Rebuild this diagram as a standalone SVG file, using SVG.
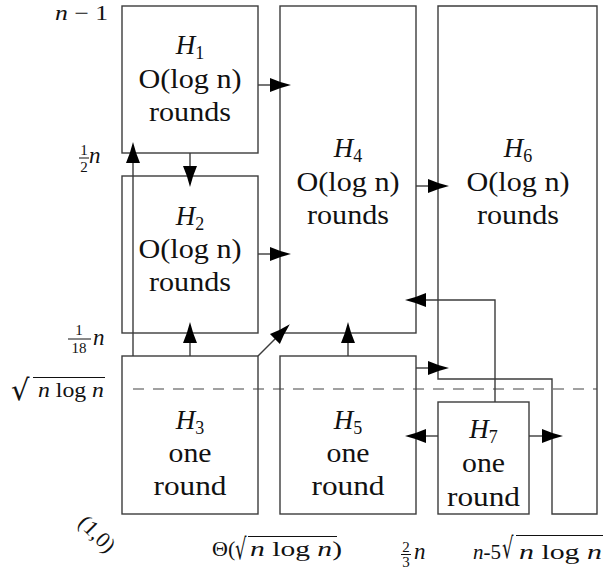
<svg xmlns="http://www.w3.org/2000/svg" width="603" height="572" viewBox="0 0 603 572">
<defs>
<marker id="ah" markerUnits="userSpaceOnUse" markerWidth="22" markerHeight="16" viewBox="0 -8 22 16" refX="10" refY="0" orient="auto">
<path d="M0,-7 Q9,-3 21,0 Q9,3 0,7 Z" fill="#000"/>
</marker>
</defs>
<rect width="603" height="572" fill="#fff"/>

<g font-family="Liberation Serif" font-size="27" fill="#111" text-anchor="middle">
<g id="H1">
<rect x="122" y="6" width="136" height="147" fill="none" stroke="#3c3c3c" stroke-width="1.4"/>
<text x="190" y="54"><tspan font-style="italic">H</tspan><tspan font-size="18" dy="5">1</tspan></text>
<text x="190" y="88" textLength="103" lengthAdjust="spacingAndGlyphs">O(log n)</text>
<text x="190" y="121" textLength="82" lengthAdjust="spacingAndGlyphs">rounds</text>
</g>
<g id="H2">
<rect x="122" y="176" width="136" height="157" fill="none" stroke="#3c3c3c" stroke-width="1.4"/>
<text x="190" y="225"><tspan font-style="italic">H</tspan><tspan font-size="18" dy="5">2</tspan></text>
<text x="190" y="258" textLength="103" lengthAdjust="spacingAndGlyphs">O(log n)</text>
<text x="190" y="291" textLength="82" lengthAdjust="spacingAndGlyphs">rounds</text>
</g>
<g id="H3">
<rect x="122" y="356" width="136" height="158" fill="none" stroke="#3c3c3c" stroke-width="1.4"/>
<text x="190" y="429"><tspan font-style="italic">H</tspan><tspan font-size="18" dy="5">3</tspan></text>
<text x="190" y="462" textLength="43" lengthAdjust="spacingAndGlyphs">one</text>
<text x="190" y="495" textLength="73" lengthAdjust="spacingAndGlyphs">round</text>
</g>
<g id="H4">
<rect x="280" y="6" width="136" height="327" fill="none" stroke="#3c3c3c" stroke-width="1.4"/>
<text x="348" y="157"><tspan font-style="italic">H</tspan><tspan font-size="18" dy="5">4</tspan></text>
<text x="348" y="191" textLength="103" lengthAdjust="spacingAndGlyphs">O(log n)</text>
<text x="348" y="224" textLength="82" lengthAdjust="spacingAndGlyphs">rounds</text>
</g>
<g id="H5">
<rect x="280" y="356" width="136" height="158" fill="none" stroke="#3c3c3c" stroke-width="1.4"/>
<text x="348" y="429"><tspan font-style="italic">H</tspan><tspan font-size="18" dy="5">5</tspan></text>
<text x="348" y="462" textLength="43" lengthAdjust="spacingAndGlyphs">one</text>
<text x="348" y="495" textLength="73" lengthAdjust="spacingAndGlyphs">round</text>
</g>
<g id="H6">
<path d="M438,6 H597 V514 H552 V379 H438 Z" fill="none" stroke="#3c3c3c" stroke-width="1.4"/>
<text x="518" y="157"><tspan font-style="italic">H</tspan><tspan font-size="18" dy="5">6</tspan></text>
<text x="518" y="191" textLength="103" lengthAdjust="spacingAndGlyphs">O(log n)</text>
<text x="518" y="224" textLength="82" lengthAdjust="spacingAndGlyphs">rounds</text>
</g>
<g id="H7">
<rect x="438" y="402" width="91" height="112" fill="none" stroke="#3c3c3c" stroke-width="1.4"/>
<text x="483.5" y="438"><tspan font-style="italic">H</tspan><tspan font-size="18" dy="5">7</tspan></text>
<text x="483.5" y="472" textLength="43" lengthAdjust="spacingAndGlyphs">one</text>
<text x="483.5" y="506" textLength="73" lengthAdjust="spacingAndGlyphs">round</text>
</g>
</g>

<line x1="133" y1="389" x2="597" y2="389" stroke="#444" stroke-width="1.2" stroke-dasharray="11 9"/>

<g id="connectors" fill="none" stroke="#3c3c3c" stroke-width="1.4" marker-end="url(#ah)">
<path d="M258,85 H280"/>
<path d="M190,153 V176"/>
<path d="M258,254 H280"/>
<path d="M190,356 V333"/>
<path d="M133,356 V153"/>
<path d="M258,356 L282,332"/>
<path d="M416,186 H438"/>
<path d="M348,356 V333"/>
<path d="M416,368 H438"/>
<path d="M495,402 V300 H416"/>
<path d="M438,436 H416"/>
<path d="M529,436 H552"/>
</g>

<g id="labels" font-family="Liberation Serif" font-size="22" fill="#111">
<text x="55" y="20" font-size="21" textLength="53" lengthAdjust="spacingAndGlyphs"><tspan font-style="italic">n</tspan> − 1</text>

<g font-size="15" text-anchor="middle">
<text x="84" y="155">1</text>
<text x="84" y="172">2</text>
<text x="79" y="335">1</text>
<text x="79" y="353">18</text>
<text x="406" y="552">2</text>
<text x="406" y="567">3</text>
</g>
<g stroke="#111" stroke-width="1">
<line x1="79" y1="158" x2="89" y2="158"/>
<line x1="68" y1="339" x2="91" y2="339"/>
<line x1="401" y1="554.5" x2="411" y2="554.5"/>
<line x1="33" y1="377.5" x2="105" y2="377.5"/>
<line x1="248" y1="536.5" x2="337" y2="536.5"/>
<line x1="516" y1="535.5" x2="603" y2="535.5"/>
</g>
<g font-style="italic" font-size="23">
<text x="89" y="163">n</text>
<text x="93" y="345">n</text>
<text x="414" y="559">n</text>
</g>

<text font-family="DejaVu Sans" font-size="29" x="11" y="400">√</text>
<text x="38" y="397" textLength="66" lengthAdjust="spacingAndGlyphs"><tspan font-style="italic">n</tspan> log <tspan font-style="italic">n</tspan></text>

<text x="0" y="0" text-anchor="middle" transform="translate(92,539) rotate(45)">(1,0)</text>

<text x="212" y="556">Θ(</text>
<text font-family="DejaVu Sans" font-size="29" x="0" y="0" transform="translate(235,559) scale(0.62,1)">√</text>
<text x="250" y="556" textLength="92" lengthAdjust="spacingAndGlyphs"><tspan font-style="italic">n</tspan> log <tspan font-style="italic">n</tspan>)</text>

<text x="473" y="559" textLength="28" lengthAdjust="spacingAndGlyphs"><tspan font-style="italic">n</tspan>-5</text>
<text font-family="DejaVu Sans" font-size="29" x="0" y="0" transform="translate(502,558) scale(0.62,1)">√</text>
<text x="519" y="559" textLength="83" lengthAdjust="spacingAndGlyphs"><tspan font-style="italic">n</tspan> log <tspan font-style="italic">n</tspan></text>
</g>
</svg>
